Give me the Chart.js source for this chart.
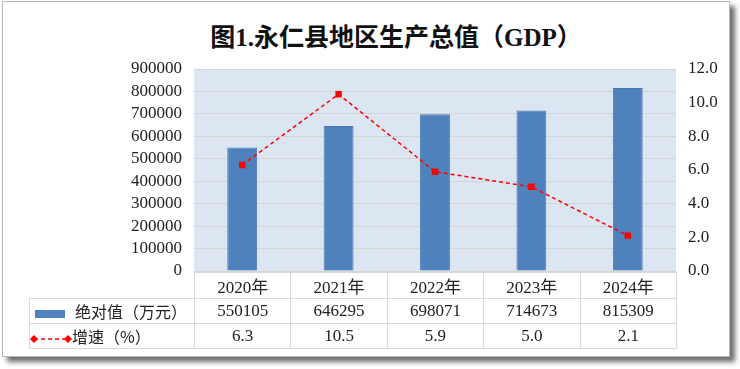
<!DOCTYPE html>
<html>
<head>
<meta charset="utf-8">
<script src="https://cdn.jsdelivr.net/npm/chart.js@4"></script>
<style>
  html, body { margin: 0; padding: 0; background: #fff; }
  #wrap { position: relative; width: 740px; height: 369px; overflow: hidden; }
  #frame {
    position: absolute; left: 2px; top: 1px; width: 726px; height: 354px;
    border: 1px solid #b8b8b8; background: #fff;
    box-shadow: 5px 5px 5px #6e6e6e;
  }
  #title {
    position: absolute; top: 17px; left: 396px; transform: translateX(-50%);
    font: bold 25px "Liberation Serif", "Noto Sans CJK SC", serif; color: #111;
    white-space: nowrap;
  }
  canvas { position: absolute; left: 0; top: 0; }
  #tbl {
    position: absolute; border-collapse: collapse; table-layout: fixed;
    font: 17px "Liberation Serif", "Noto Sans CJK SC", serif; color: #222;
  }
  #tbl td { border: 1px solid #d9d9d9; text-align: center; height: 23px; padding: 0; white-space: nowrap; }
  #tbl td.blank { border-top: none; border-left: none; }
  #tbl td.lg { text-align: left; font-family: "Noto Sans CJK SC", sans-serif; font-size: 16px; }
  .sw { display: inline-block; width: 30px; height: 8px; background: #4f81bd; margin: 0 10px 0 5px; vertical-align: middle; }
  svg { vertical-align: middle; }
</style>
</head>
<body>
<div id="wrap">
  <div id="frame"></div>
  <div id="title">图1.永仁县地区生产总值（GDP）</div>
  <canvas id="c" width="740" height="369"></canvas>
  <table id="tbl"></table>
</div>
<script>
const categories = ["2020年", "2021年", "2022年", "2023年", "2024年"];
const gdpValues = [550105, 646295, 698071, 714673, 815309];
const growthRates = [6.3, 10.5, 5.9, 5.0, 2.1];
const gdpLabel = "绝对值（万元）";
const growthLabel = "增速（%）";
const gdpAxis = { max: 900000, step: 100000 };
const rateAxis = { max: 12, step: 2 };

const tickFont = { family: "'Liberation Serif', serif", size: 17 };

// light blue plot background
const plotBg = {
    id: "plotBg",
    beforeDraw(chart) {
        const a = chart.chartArea, ctx = chart.ctx;
        ctx.save();
        ctx.fillStyle = "#dce6f2";
        ctx.fillRect(a.left, a.top, a.right - a.left, a.bottom - a.top);
        ctx.restore();
    }
};

// put the data table under the plot, columns lined up with the bars
const dataTable = {
    id: "dataTable",
    afterLayout(chart) {
        const a = chart.chartArea;
        const colW = (a.right - a.left) / categories.length;
        const tbl = document.getElementById("tbl");
        const firstW = a.left - 29;
        tbl.style.left = (a.left - firstW) + "px";
        tbl.style.top = (a.bottom + 1) + "px";
        tbl.style.width = (firstW + colW * categories.length) + "px";

        let html = "<colgroup><col style='width:" + firstW + "px'>";
        categories.forEach(() => { html += "<col style='width:" + colW + "px'>"; });
        html += "</colgroup>";
        html += "<tr><td class='blank'></td>" + categories.map((c) => `<td>${c}</td>`).join("") + "</tr>";
        html += "<tr><td class='lg'><span class='sw'></span>" + gdpLabel + "</td>" +
            gdpValues.map((v) => `<td>${v}</td>`).join("") + "</tr>";
        const lineIcon = "<svg width='42' height='12'><line x1='4' y1='6' x2='38' y2='6' stroke='#ff0000' stroke-width='1.5' stroke-dasharray='4,3'/>" +
            "<polygon points='4,2 8,6 4,10 0,6' fill='#ff0000'/><polygon points='38,2 42,6 38,10 34,6' fill='#ff0000'/></svg>";
        html += "<tr><td class='lg'>" + lineIcon + growthLabel + "</td>" +
            growthRates.map((v) => `<td>${v.toFixed(1)}</td>`).join("") + "</tr>";
        tbl.innerHTML = html;
    }
};

new Chart(document.getElementById("c").getContext("2d"), {
    data: {
        labels: categories,
        datasets: [
            {
                type: "line",
                label: growthLabel,
                data: growthRates,
                yAxisID: "y1",
                borderColor: "#ff0000",
                borderWidth: 1.5,
                borderDash: [4, 3],
                pointStyle: "rect",
                pointRadius: 3.5,
                pointBackgroundColor: "#ff0000",
                pointBorderColor: "#ff0000",
                tension: 0,
                order: 0
            },
            {
                type: "bar",
                label: gdpLabel,
                data: gdpValues,
                yAxisID: "y",
                backgroundColor: "#4f81bd",
                borderColor: "#4a7ab3",
                borderWidth: 1,
                barPercentage: 0.31,
                categoryPercentage: 1,
                order: 1
            }
        ]
    },
    options: {
        responsive: false,
        animation: false,
        layout: { padding: { top: 69, bottom: 98, left: 0, right: 0 } },
        plugins: { legend: { display: false }, tooltip: { enabled: false } },
        scales: {
            x: { display: false },
            y: {
                position: "left",
                min: 0,
                max: gdpAxis.max,
                afterFit: (s) => { s.width = 194; },
                ticks: { stepSize: gdpAxis.step, autoSkip: false, padding: 12, color: "#222", font: tickFont,
                    callback: (v) => String(v) },
                grid: { color: "#d4d4d4", drawTicks: false },
                border: { display: false }
            },
            y1: {
                position: "right",
                min: 0,
                max: rateAxis.max,
                afterFit: (s) => { s.width = 64; },
                ticks: { stepSize: rateAxis.step, autoSkip: false, padding: 12, color: "#222", font: tickFont,
                    callback: (v) => v.toFixed(1) },
                grid: { drawOnChartArea: false, drawTicks: false },
                border: { display: false }
            }
        }
    },
    plugins: [plotBg, dataTable]
});
</script>
</body>
</html>
